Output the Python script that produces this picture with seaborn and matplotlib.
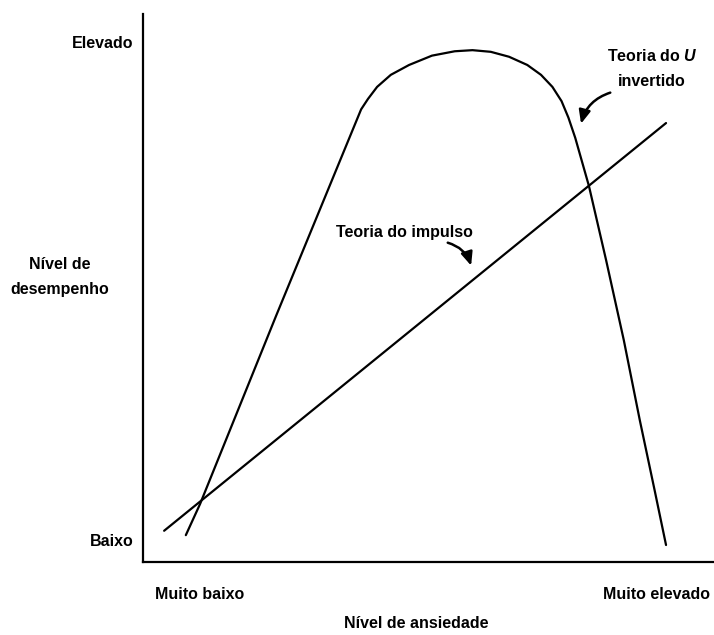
import matplotlib
matplotlib.use("Agg")
import matplotlib.pyplot as plt
import seaborn as sns
import pandas as pd

# ---- data (abstract 0-100 scales) ----
u_x = [7.5, 10.0, 23.3, 38.2, 39.4, 41.0, 43.4, 46.6, 50.6, 54.6, 57.7, 60.9,
       64.1, 67.3, 69.7, 71.7, 73.3, 74.5, 75.7, 76.9, 78.1, 81.1, 84.2, 87.0,
       89.6, 91.6]
u_y = [4.9, 10.6, 44.9, 82.6, 84.5, 86.7, 88.9, 90.7, 92.4, 93.2, 93.4, 93.1,
       92.2, 90.7, 88.9, 86.7, 84.1, 81.1, 77.4, 73.0, 68.6, 55.1, 40.5, 25.9,
       13.1, 3.1]
drive_x = [3.7, 91.6]
drive_y = [5.7, 80.1]

x_ticks = [10, 90]
x_ticklabels = ["Muito baixo", "Muito elevado"]
y_ticks = [4.0, 94.8]
y_ticklabels = ["Baixo", "Elevado"]

sns.set_style("white")
plt.rcParams["font.family"] = ["Liberation Sans", "DejaVu Sans"]
plt.rcParams["mathtext.fontset"] = "custom"
plt.rcParams["mathtext.it"] = "Liberation Sans:italic:bold"
plt.rcParams["text.color"] = "black"
plt.rcParams["xtick.color"] = "black"
plt.rcParams["ytick.color"] = "black"
plt.rcParams["axes.labelcolor"] = "black"

fig = plt.figure(figsize=(7.14, 6.35), dpi=100)
ax = fig.add_axes([143 / 714, 73 / 635, 571 / 714, 548 / 635])

df_u = pd.DataFrame({"x": u_x, "y": u_y})
df_d = pd.DataFrame({"x": drive_x, "y": drive_y})
sns.lineplot(data=df_u, x="x", y="y", ax=ax, color="black", lw=1.6, sort=False)
sns.lineplot(data=df_d, x="x", y="y", ax=ax, color="black", lw=1.6, sort=False)

ax.set_xlim(0, 100)
ax.set_ylim(0, 100)
for s in ["top", "right"]:
    ax.spines[s].set_visible(False)
for s in ["left", "bottom"]:
    ax.spines[s].set_color("black")
    ax.spines[s].set_linewidth(1.6)

fs = 11.5
ax.set_xticks(x_ticks)
ax.set_xticklabels(x_ticklabels, fontsize=fs, fontweight="bold")
ax.set_yticks(y_ticks)
ax.set_yticklabels(y_ticklabels, fontsize=fs, fontweight="bold")
ax.tick_params(axis="both", length=0, colors="black")
ax.tick_params(axis="x", pad=18)
ax.tick_params(axis="y", pad=7)

ax.set_xlabel("Nível de ansiedade", fontsize=fs, fontweight="bold",
              va="center")
ax.xaxis.set_label_coords(0.478, -0.112)
ax.set_ylabel("Nível de\ndesempenho", fontsize=fs, fontweight="bold",
              rotation=0, ha="center", va="center", multialignment="center",
              linespacing=1.9)
ax.yaxis.set_label_coords(-0.145, 0.52)

# annotations
ax.text(45.7, 60.2, "Teoria do impulso", fontsize=fs, fontweight="bold",
        ha="center", va="center")
ax.annotate("", xy=(57.6, 53.6), xytext=(52.9, 58.4),
            arrowprops=dict(arrowstyle="-|>,head_length=0.8,head_width=0.35",
                            connectionstyle="arc3,rad=-0.3", lw=1.8,
                            color="black"))
ax.text(89.1, 92.3, "Teoria do $U$", fontsize=fs, fontweight="bold",
        ha="center", va="center")
ax.text(89.1, 87.6, "invertido", fontsize=fs, fontweight="bold",
        ha="center", va="center")
ax.annotate("", xy=(76.6, 79.5), xytext=(82.3, 85.8),
            arrowprops=dict(arrowstyle="-|>,head_length=0.8,head_width=0.35",
                            connectionstyle="arc3,rad=0.3", lw=1.8,
                            color="black"))

fig.savefig("out.png", dpi=100)
